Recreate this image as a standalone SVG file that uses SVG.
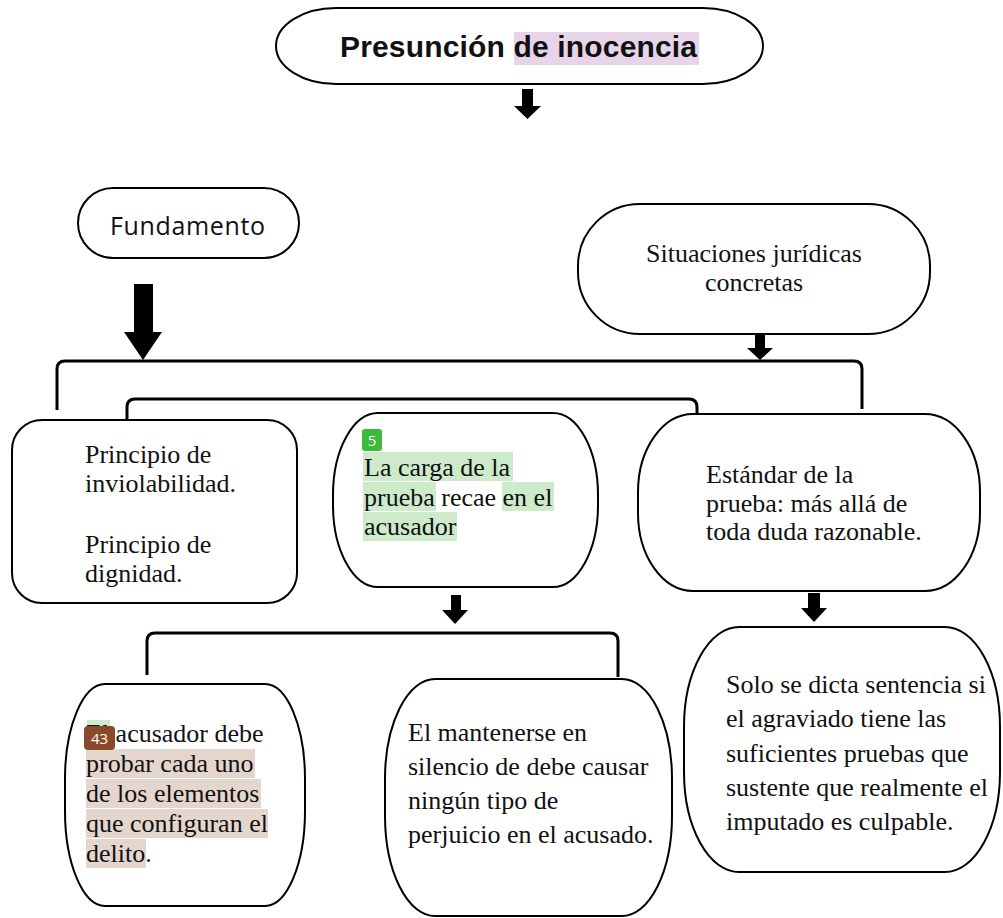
<svg xmlns="http://www.w3.org/2000/svg" width="1003" height="918" viewBox="0 0 1003 918">
<style>
.box{fill:#fff;stroke:#000;stroke-width:2}
.br{fill:none;stroke:#000;stroke-width:3;stroke-linecap:butt}
.arr{fill:#000}
.t{font-family:"Liberation Serif","Times New Roman",serif;font-size:26px;fill:#111}
.hg{fill:#cdeacb}
.hb{fill:#e4d6cd}
.badge{font-family:"Open Sans","Liberation Sans",sans-serif;font-size:15px;fill:#fff;text-anchor:middle}
</style>
<rect width="1003" height="918" fill="#fff"/>
<g id="connectors">
<polygon class="arr" points="522,89 533,89 533,106 541,106 527.5,119 514,106 522,106"/>
<polygon class="arr" points="134,284 153,284 153,332 162,332 143,360 124,332 134,332"/>
<polygon class="arr" points="755,334 765,334 765,348 773,348 760,360 747,348 755,348"/>
<polygon class="arr" points="451,595 461,595 461,610 468,610 455,624 442,610 451,610"/>
<polygon class="arr" points="808,593 820,593 820,608 827,608 814,622 801,608 808,608"/>
<path class="br" d="M57,410 V369 Q57,361 65,361 H854 Q862,361 862,369 V409"/>
<path class="br" d="M127,442 V407 Q127,399 135,399 H689 Q697,399 697,407 V414"/>
<path class="br" d="M147,675 V641 Q147,633 155,633 H610 Q618,633 618,641 V677"/>
</g>
<g id="n-presuncion">
<rect class="box" x="276" y="8" width="487" height="76" rx="60" ry="38"/>
<rect x="514" y="32" width="185" height="33" fill="#e7d4e9"/>
<text x="340" y="57" font-family="Liberation Sans, Arial, sans-serif" font-weight="bold" font-size="30" fill="#111" textLength="357" lengthAdjust="spacing">Presunción de inocencia</text>
</g>
<g id="n-fundamento">
<rect class="box" x="78" y="188" width="221" height="70" rx="35" ry="35"/>
<text x="110" y="235" font-family="Open Sans, Liberation Sans, sans-serif" font-size="25" fill="#111" textLength="155" lengthAdjust="spacing">Fundamento</text>
</g>
<g id="n-situaciones">
<rect class="box" x="578" y="204" width="352" height="130" rx="62" ry="62"/>
<text class="t" x="754" y="262" text-anchor="middle" fill="#222">Situaciones jurídicas</text>
<text class="t" x="754" y="291" text-anchor="middle" fill="#222">concretas</text>
</g>
<g id="n-principio">
<rect class="box" x="12" y="420" width="285" height="183" rx="30" ry="30"/>
<text class="t" x="85" y="463">Principio de</text>
<text class="t" x="85" y="492">inviolabilidad.</text>
<text class="t" x="85" y="553">Principio de</text>
<text class="t" x="85" y="582">dignidad.</text>
</g>
<g id="n-carga">
<rect class="box" x="333" y="413" width="265" height="174" rx="45" ry="82"/>
<rect class="hg" x="363" y="452" width="150" height="29"/>
<rect class="hg" x="363" y="482" width="73" height="29"/>
<rect class="hg" x="502" y="482" width="52" height="29"/>
<rect class="hg" x="363" y="512" width="94" height="29"/>
<rect x="362" y="429" width="20" height="22" rx="3" fill="#3cba3c"/>
<text class="badge" x="372" y="446">5</text>
<text class="t" x="364" y="476">La carga de la</text>
<text class="t" x="364" y="505.5">prueba recae en el</text>
<text class="t" x="364" y="535">acusador</text>
</g>
<g id="n-estandar">
<rect class="box" x="638" y="414" width="342" height="177" rx="55" ry="78"/>
<text class="t" x="706" y="483" font-size="25" fill="#333">Estándar de la</text>
<text class="t" x="706" y="512" font-size="25" fill="#333">prueba: más allá de</text>
<text class="t" x="706" y="540" font-size="25" fill="#333">toda duda razonable.</text>
</g>
<g id="n-acusador">
<rect class="box" x="65" y="684" width="240" height="222" rx="40" ry="95"/>
<rect class="hg" x="87" y="720" width="23" height="29"/>
<rect class="hb" x="86" y="749" width="169" height="29"/>
<rect class="hb" x="86" y="779" width="175" height="29"/>
<rect class="hb" x="86" y="809" width="182" height="29"/>
<rect class="hb" x="86" y="839" width="60" height="29"/>
<text class="t" x="86" y="742">El acusador debe</text>
<text class="t" x="86" y="772">probar cada uno</text>
<text class="t" x="86" y="802">de los elementos</text>
<text class="t" x="86" y="832">que configuran el</text>
<text class="t" x="86" y="862">delito.</text>
<rect x="84" y="726" width="31" height="24" rx="4" fill="#8a4a2a"/>
<text class="badge" x="99.5" y="744">43</text>
</g>
<g id="n-silencio">
<rect class="box" x="385" y="679" width="287" height="237" rx="50" ry="100"/>
<text class="t" x="408" y="741">El mantenerse en</text>
<text class="t" x="408" y="775">silencio de debe causar</text>
<text class="t" x="408" y="809">ningún tipo de</text>
<text class="t" x="408" y="843">perjuicio en el acusado.</text>
</g>
<g id="n-solo">
<rect class="box" x="684" y="627" width="316" height="245" rx="55" ry="100"/>
<text class="t" x="726" y="693" font-size="25">Solo se dicta sentencia si</text>
<text class="t" x="726" y="727" font-size="25">el agraviado tiene las</text>
<text class="t" x="726" y="762" font-size="25">suficientes pruebas que</text>
<text class="t" x="726" y="796" font-size="25">sustente que realmente el</text>
<text class="t" x="726" y="830" font-size="25">imputado es culpable.</text>
</g>
</svg>
